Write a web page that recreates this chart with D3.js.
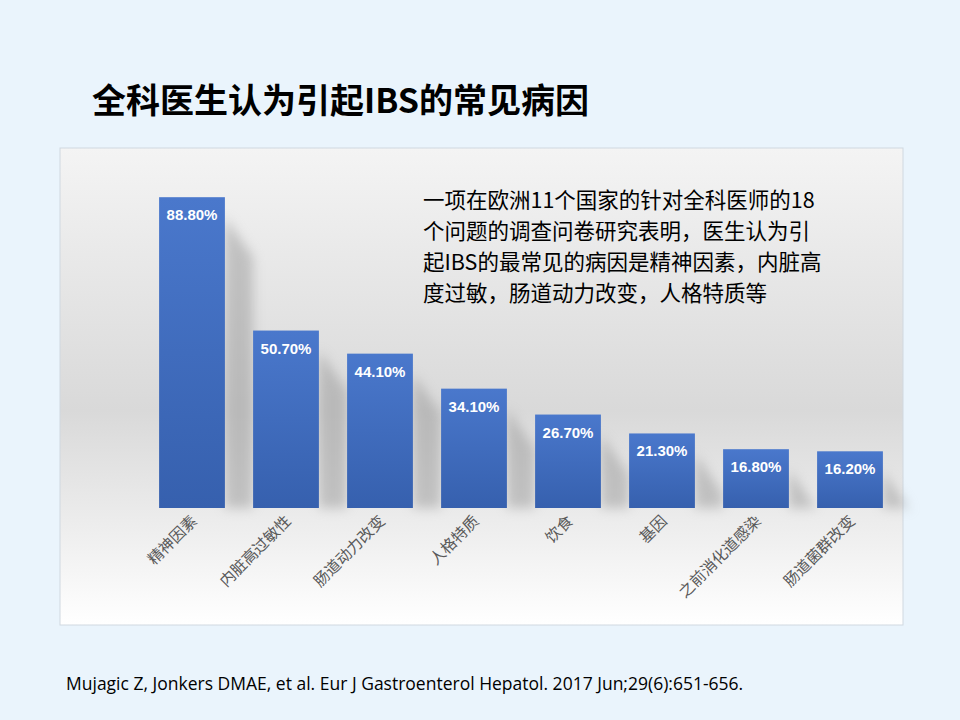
<!DOCTYPE html>
<html><head><meta charset="utf-8">
<script src="https://cdn.jsdelivr.net/npm/d3@7"></script>
<style>body{margin:0;background:#eaf4fc;font-family:"Noto Sans CJK SC",sans-serif}</style>
</head><body><svg id="c" width="960" height="720"></svg>
<script>
const categories=["精神因素","内脏高过敏性","肠道动力改变","人格特质","饮食","基因","之前消化道感染","肠道菌群改变"];
const values=[88.8,50.7,44.1,34.1,26.7,21.3,16.8,16.2];
const svg=d3.select("#c");
const defs=svg.append("defs");
const pg=defs.append("linearGradient").attr("id","pg").attr("x1",0).attr("x2",0).attr("y1",0).attr("y2",1);
pg.append("stop").attr("offset","0").attr("stop-color","#f4f4f4");
pg.append("stop").attr("offset","0.55").attr("stop-color","#d9d9d9");
pg.append("stop").attr("offset","0.78").attr("stop-color","#ececec");
pg.append("stop").attr("offset","1").attr("stop-color","#ffffff");
const bg=defs.append("linearGradient").attr("id","bg").attr("x1",0).attr("x2",0).attr("y1",0).attr("y2",1);
bg.append("stop").attr("offset","0").attr("stop-color","#4a78cc");
bg.append("stop").attr("offset","1").attr("stop-color","#3660ae");
const f=defs.append("filter").attr("id","bl").attr("x","-50%").attr("y","-50%").attr("width","200%").attr("height","200%");
f.append("feGaussianBlur").attr("stdDeviation",6);
svg.append("text").attr("x",92).attr("y",113).attr("font-size",34).attr("font-weight","bold").attr("fill","#000").text("全科医生认为引起IBS的常见病因");
svg.append("rect").attr("x",60).attr("y",148).attr("width",843).attr("height",477).attr("fill","url(#pg)").attr("stroke","#d0d8e0");
const x=d3.scaleBand().domain(categories).range([145,897]).paddingInner(0.3).paddingOuter(0.15);
const y=d3.scaleLinear().domain([0,100]).range([508,158]);
const g=svg.append("g");
g.selectAll(".s").data(values).join("path").attr("fill","#999").attr("opacity",0.5).attr("filter","url(#bl)")
 .attr("d",(d,i)=>{const x0=x(categories[i])+x.bandwidth(),t=y(d)+20;return `M${x0},${t}L${x0+28},${t+40}L${x0+28},${508}L${x0},508Z`;});
g.selectAll(".b").data(values).join("rect").attr("x",(d,i)=>x(categories[i])).attr("y",d=>y(d)).attr("width",x.bandwidth()).attr("height",d=>508-y(d)).attr("fill","url(#bg)");
g.selectAll(".v").data(values).join("text").attr("x",(d,i)=>x(categories[i])+x.bandwidth()/2).attr("y",d=>y(d)+23)
 .attr("text-anchor","middle").attr("fill","#fff").attr("font-size",15).attr("font-weight","bold").attr("font-family","Liberation Sans, Arial").text(d=>d.toFixed(2)+"%");
g.selectAll(".l").data(categories).join("text").attr("transform",c=>`translate(${x(c)+x.bandwidth()/2+6},${522}) rotate(-45)`)
 .attr("text-anchor","end").attr("font-size",15.5).attr("fill","#595959").text(c=>c);
const lines=["一项在欧洲11个国家的针对全科医师的18","个问题的调查问卷研究表明，医生认为引","起IBS的最常见的病因是精神因素，内脏高","度过敏，肠道动力改变，人格特质等"];
svg.append("g").selectAll("text").data(lines).join("text").attr("x",423).attr("y",(d,i)=>208+i*31).attr("font-size",21.5).attr("fill","#000").text(d=>d);
svg.append("text").attr("x",66).attr("y",690).attr("font-size",17.5).attr("font-family","Open Sans, sans-serif").attr("fill","#000").text("Mujagic Z, Jonkers DMAE, et al. Eur J Gastroenterol Hepatol. 2017 Jun;29(6):651-656.");
</script></body></html>
